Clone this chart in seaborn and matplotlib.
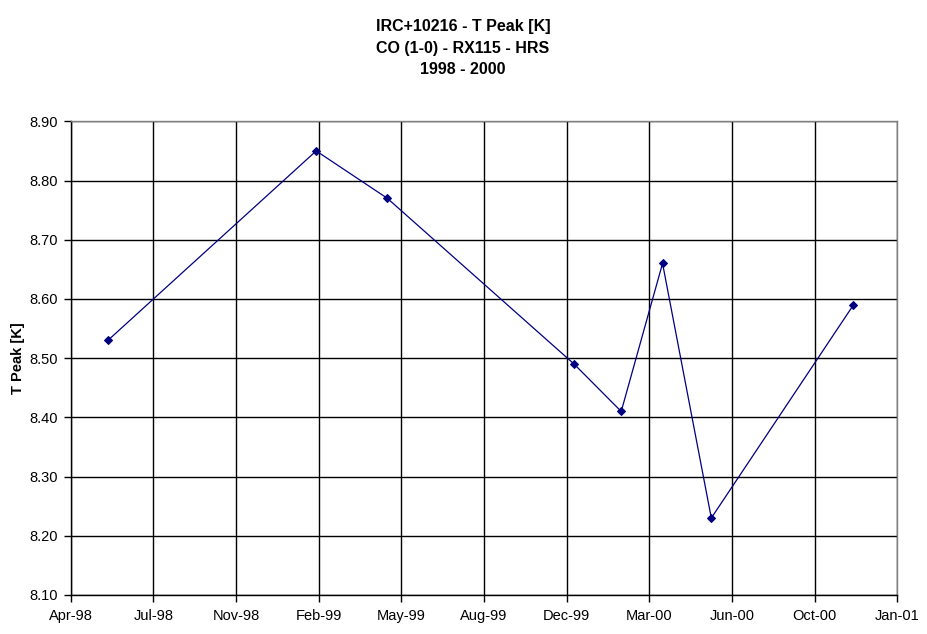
import matplotlib
matplotlib.use("Agg")
import matplotlib.pyplot as plt
import matplotlib.dates as mdates
import seaborn as sns
import pandas as pd
import numpy as np

dates = ["1998-06-01", "1999-02-08", "1999-05-05", "1999-12-17",
         "2000-02-12", "2000-04-02", "2000-05-31", "2000-11-19"]
t_peak = [8.53, 8.85, 8.77, 8.49, 8.41, 8.66, 8.23, 8.59]
yticks = [8.10, 8.20, 8.30, 8.40, 8.50, 8.60, 8.70, 8.80, 8.90]
title_lines = ["IRC+10216 - T Peak [K]", "CO (1-0) - RX115 - HRS", "1998 - 2000"]
ylabel = "T Peak [K]"

df = pd.DataFrame({"date": pd.to_datetime(dates), "tpeak": t_peak})

sns.set_style("white")
plt.rcParams['font.family'] = ['Liberation Sans', 'DejaVu Sans']
plt.rcParams['text.color'] = 'black'

fig = plt.figure(figsize=(9.28, 6.34), dpi=100)
ax = fig.add_axes([70.7/928, 1-595/634, (897.3-70.7)/928, (595-121.3)/634])

sns.lineplot(data=df, x="date", y="tpeak", ax=ax, color="#000080",
             linewidth=0.9, marker="D", markersize=4.5,
             markeredgecolor="#000080", markerfacecolor="#000080")

start = pd.Timestamp("1998-04-17")
xt = [start + pd.Timedelta(days=100*i) for i in range(11)]
ax.set_xlim(xt[0], xt[-1])
ax.set_xticks(xt)
ax.xaxis.set_major_formatter(mdates.DateFormatter("%b-%y"))
ax.set_ylim(8.10, 8.90)
ax.set_yticks(yticks)
ax.set_yticklabels([f"{v:.2f}" for v in yticks])

ax.grid(True, color="black", linewidth=1.0)
ax.set_axisbelow(True)
for s in ["top", "right"]:
    ax.spines[s].set_color("#808080")
    ax.spines[s].set_linewidth(1.0)
for s in ["left", "bottom"]:
    ax.spines[s].set_color("black")
    ax.spines[s].set_linewidth(1.0)
ax.tick_params(axis="both", direction="out", length=5, width=1, color="black",
               labelsize=10.5, colors="black", bottom=True, left=True)
ax.tick_params(axis="x", pad=5)
ax.tick_params(axis="y", pad=4)

ax.set_xlabel("")
ax.set_ylabel("")
fig.text(18/928, 1-358/634, ylabel, rotation=90, ha="center", va="center",
         fontsize=10.5, fontweight="bold", color="black")

for i, line in enumerate(title_lines):
    fig.text(463/928, 1-(27+21.5*i)/634, line, ha="center", va="center",
             fontsize=11.5, fontweight="bold", color="black")

fig.savefig("out.png", dpi=100)
